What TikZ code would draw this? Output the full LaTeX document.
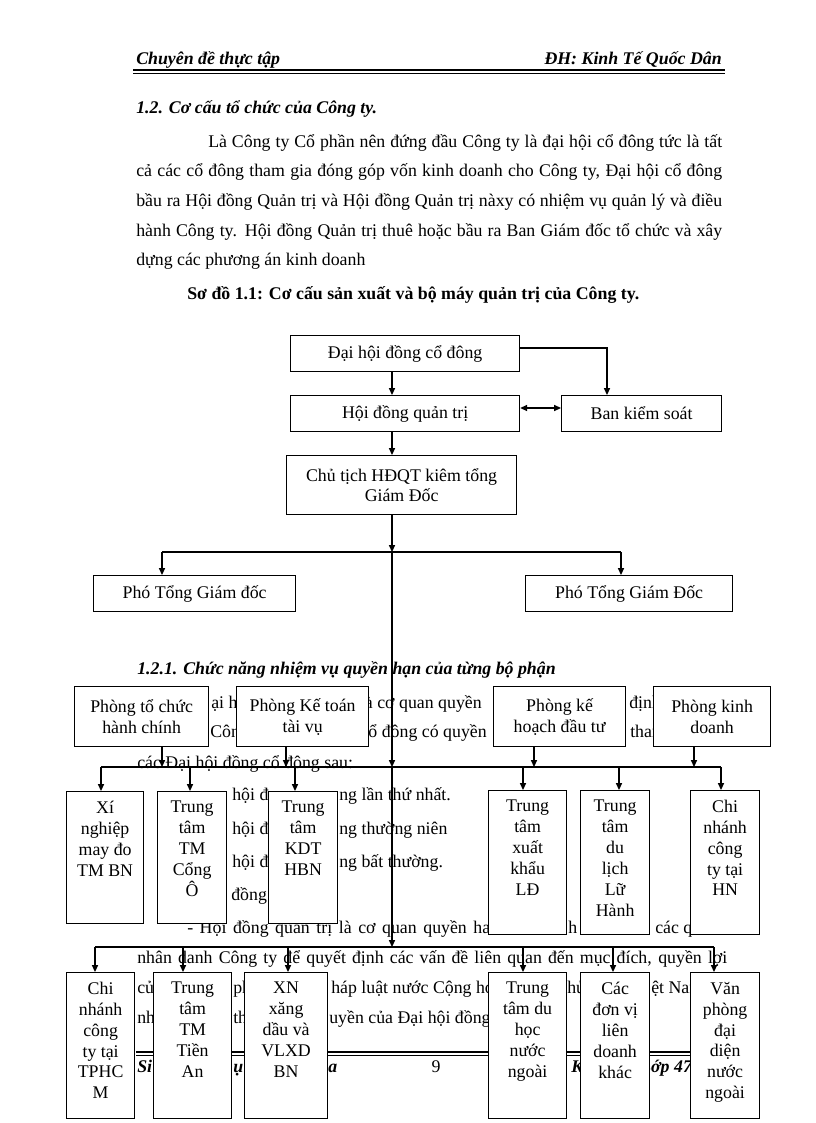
\documentclass[tikz,border=0pt]{standalone}
\usepackage{fontspec}
\setmainfont{Liberation Serif}
\usetikzlibrary{arrows.meta}
\newlength\pxu
\setlength\pxu{0.7295pt}
\newcommand\fs{\fontsize{13}{15.2}\selectfont}
\begin{document}
\begin{tikzpicture}[x=0.7295pt,y=-0.7295pt,
  t/.style={inner sep=0pt,anchor=base west,font=\fs},
  te/.style={inner sep=0pt,anchor=base east,font=\fs},
  bi/.style={font=\fs\bfseries\itshape},
  box/.style={draw,line width=0.9pt,fill=white,inner sep=0pt,align=center,font=\fs,anchor=north west},
  btxt/.style={inner sep=0pt,anchor=north,align=center,font=\fs},
  con/.style={line width=0.9pt},
  arr/.style={con,-{Triangle[length=5pt,width=4.4pt]}},
  arrtwo/.style={con,{Triangle[length=5pt,width=4.4pt]}-{Triangle[length=5pt,width=4.4pt]}}]
\useasboundingbox[fill=white] (0,0) rectangle (816,1123);

% ---------- header ----------
\node[t,bi] (hl) at (136,64) {Chuyên đề thực tập};
\node[te,bi] (hr) at (722,64) {ĐH: Kinh Tế Quốc Dân};
\draw[line width=1.1pt] (133,70) -- (725,70);
\draw[line width=0.4pt] (133,73) -- (725,73);

% ---------- text ----------
\node[t,bi] (h1) at (136,113) {1.2. Cơ cấu tổ chức của Công ty.};
\node[t] (par1) at (208,147) {\makebox[514\pxu][s]{Là Công ty Cổ phần nên đứng đầu Công ty là đại hội cổ đông tức là tất}};
\node[t] (par2) at (136,176) {\makebox[586\pxu][s]{cả các cổ đông tham gia đóng góp vốn kinh doanh cho Công ty, Đại hội cổ đông}};
\node[t] (par3) at (136,206) {\makebox[586\pxu][s]{bầu ra Hội đồng Quản trị và Hội đồng Quản trị nàxy có nhiệm vụ quản lý và điều}};
\node[t] (par4) at (136,236) {\makebox[586\pxu][s]{hành Công ty. Hội đồng Quản trị thuê hoặc bầu ra Ban Giám đốc tổ chức và xây}};
\node[t] (par5) at (136,265) {dựng các phương án kinh doanh};
\node[t,font=\fs\bfseries] (cap) at (187,299) {Sơ đồ 1.1: Cơ cấu sản xuất và bộ máy quản trị của Công ty.};

\node[t,bi] (h2) at (137,674) {1.2.1. Chức năng nhiệm vụ quyền hạn của từng bộ phận};

% background text fragments (the rest of each line lies under the boxes)
\node[t] (fa1) at (211,708) {ại h};
\node[te] (fa2) at (482,708) {à cơ quan quyền};
\node[t] (fa3) at (629,708) {định};
\node[t] (fb1) at (210,737) {Công};
\node[te] (fb2) at (487,737) {ổ đông có quyền};
\node[t] (fb3) at (630,737) {tham};
\node[t] (fc) at (137,768) {các Đại hội đồng cổ đông sau:};
\node[t] (fd1) at (232,800) {hội đ};
\node[t] (fd2) at (339,800) {ng lần thứ nhất.};
\node[t] (fe1) at (232,834) {hội đ};
\node[t] (fe2) at (339,834) {ng thường niên};
\node[t] (ff1) at (232,867) {hội đ};
\node[t] (ff2) at (339,867) {ng bất thường.};
\node[t] (fg) at (231,900) {đồng};
\node[t] (fh1) at (187,933) {\makebox[303\pxu][s]{- Hội đồng quản trị là cơ quan quyền ha}};
\node[t] (fh2) at (568,933) {h};
\node[t] (fh3) at (655,933) {các q};
\node[t] (fi) at (137,963) {\makebox[590\pxu][s]{nhân danh Công ty để quyết định các vấn đề liên quan đến mục đích, quyền lợi}};
\node[t] (fj1) at (137,993) {của};
\node[t] (fj2) at (233,993) {phù};
\node[t] (fj3) at (331,993) {háp luật nước Cộng ho};
\node[t] (fj4) at (567,993) {hủ};
\node[t] (fj5) at (651,993) {ệt Nam};
\node[t] (fk1) at (137,1023) {nh};
\node[t] (fk2) at (233,1023) {th};
\node[t] (fk3) at (329,1023) {uyền của Đại hội đồng};

% footer
\draw[line width=1.1pt] (136,1052) -- (722,1052);
\draw[line width=0.4pt] (136,1055.5) -- (722,1055.5);
\node[t,bi] (fo1) at (137,1072) {Si};
\node[t,bi] (fo2) at (233,1072) {ụ};
\node[t,bi] (fo3) at (328,1072) {a};
\node[inner sep=0pt,anchor=base,font=\fs] (fo4) at (436,1072) {9};
\node[t,bi] (fo5) at (571,1072) {K};
\node[t,bi] (fo6) at (640,1072) {Lớp 47};

% ---------- boxes ----------
\node[box,minimum width=229\pxu,minimum height=36\pxu] (b1) at (290,335) {Đại hội đồng cổ đông};
\node[box,minimum width=229\pxu,minimum height=36\pxu] (b2) at (290,395) {Hội đồng quản trị};
\node[box,minimum width=160\pxu,minimum height=36\pxu] (b3) at (561,395) {Ban kiểm soát};
\node[box,minimum width=230\pxu,minimum height=59\pxu] (b4) at (286,455) {Chủ tịch HĐQT kiêm tổng\\Giám Đốc};
\node[box,minimum width=202\pxu,minimum height=36\pxu] (pg1) at (93,575) {Phó Tổng Giám đốc};
\node[box,minimum width=207\pxu,minimum height=36\pxu] (pg2) at (525,575) {Phó Tổng Giám Đốc};

\node[box,minimum width=134\pxu,minimum height=60\pxu] (q1) at (74,686) {Phòng tổ chức\\hành chính};
\node[box,minimum width=132\pxu,minimum height=60\pxu] (q2) at (236,686) {Phòng Kế toán\\tài vụ};
\node[box,minimum width=132\pxu,minimum height=60\pxu] (q3) at (493,686) {Phòng kế\\hoạch đầu tư};
\node[box,minimum width=117\pxu,minimum height=60\pxu] (q4) at (653,686) {Phòng kinh\\doanh};

\node[box,minimum width=77\pxu,minimum height=132\pxu] (rA) at (66,791) {};
\node[box,minimum width=69\pxu,minimum height=132\pxu] (rB) at (157,791) {};
\node[box,minimum width=69\pxu,minimum height=132\pxu] (rC) at (268,791) {};
\node[box,minimum width=78\pxu,minimum height=144\pxu] (rD) at (488,790) {};
\node[box,minimum width=69\pxu,minimum height=144\pxu] (rE) at (580,790) {};
\node[box,minimum width=69\pxu,minimum height=144\pxu] (rF) at (690,790) {};
\node[btxt] (rAt) at ([yshift=-10\pxu]rA.north) {Xí\\nghiệp\\may đo\\TM BN};
\node[btxt] (rBt) at ([yshift=-10\pxu]rB.north) {Trung\\tâm\\TM\\Cổng\\Ô};
\node[btxt] (rCt) at ([yshift=-10\pxu]rC.north) {Trung\\tâm\\KDT\\HBN};
\node[btxt] (rDt) at ([yshift=-10\pxu]rD.north) {Trung\\tâm\\xuất\\khẩu\\LĐ};
\node[btxt] (rEt) at ([yshift=-10\pxu]rE.north) {Trung\\tâm\\du\\lịch\\Lữ\\Hành};
\node[btxt] (rFt) at ([yshift=-10\pxu]rF.north) {Chi\\nhánh\\công\\ty tại\\HN};

\node[box,minimum width=68\pxu,minimum height=146\pxu] (sA) at (66,972) {};
\node[box,minimum width=78\pxu,minimum height=146\pxu] (sB) at (153,972) {};
\node[box,minimum width=83\pxu,minimum height=146\pxu] (sC) at (244,972) {};
\node[box,minimum width=78\pxu,minimum height=146\pxu] (sD) at (488,972) {};
\node[box,minimum width=69\pxu,minimum height=146\pxu] (sE) at (580,972) {};
\node[box,minimum width=69\pxu,minimum height=146\pxu] (sF) at (690,972) {};
\node[btxt] (sAt) at ([yshift=-10\pxu]sA.north) {Chi\\nhánh\\công\\ty tại\\TPHC\\M};
\node[btxt] (sBt) at ([yshift=-10\pxu]sB.north) {Trung\\tâm\\TM\\Tiền\\An};
\node[btxt] (sCt) at ([yshift=-10\pxu]sC.north) {XN\\xăng\\dầu và\\VLXD\\BN};
\node[btxt] (sDt) at ([yshift=-10\pxu]sD.north) {Trung\\tâm du\\học\\nước\\ngoài};
\node[btxt] (sEt) at ([yshift=-10\pxu]sE.north) {Các\\đơn vị\\liên\\doanh\\khác};
\node[btxt] (sFt) at ([yshift=-10\pxu]sF.north) {Văn\\phòng\\đại\\diện\\nước\\ngoài};

% ---------- connectors ----------
\coordinate (sp) at (392,0);
\coordinate (s1) at (392,552);
\coordinate (s2) at (392,767);
\coordinate (s3) at (392,947);
\coordinate (bk) at (607,348);
\coordinate (dd) at (0,408);
\coordinate (h1l) at (162,552);
\coordinate (h1r) at (621,552);
\coordinate (l2a) at (101,767);
\coordinate (l2b) at (721,767);
\coordinate (f1) at (162,767);
\coordinate (f2) at (286,767);
\coordinate (f3) at (534,767);
\coordinate (f4) at (694,767);
\coordinate (d2) at (190,767);
\coordinate (d3) at (295,767);
\coordinate (d4) at (523,767);
\coordinate (d5) at (619,767);
\coordinate (l3a) at (95,947);
\coordinate (l3b) at (714,947);
\coordinate (e2) at (183,947);
\coordinate (e3) at (288,947);
\coordinate (e4) at (523,947);
\coordinate (e5) at (613,947);

\draw[arr] (b1.south -| sp) -- (b2.north -| sp);
\draw[arr] (b1.east |- bk) -- (bk) -- (bk |- b3.north);
\draw[arrtwo] (b2.east |- dd) -- (b3.west |- dd);
\draw[arr] (b2.south -| sp) -- (b4.north -| sp);
\draw[arr] (b4.south -| sp) -- (s1);
\draw[con] (h1l) -- (h1r);
\draw[arr] (h1l) -- (h1l |- pg1.north);
\draw[arr] (h1r) -- (h1r |- pg2.north);
\draw[arr] (s1) -- (s2);

\draw[con] (l2a) -- (l2b);
\draw[arr] (q1.south -| f1) -- (f1);
\draw[arr] (q2.south -| f2) -- (f2);
\draw[arr] (q3.south -| f3) -- (f3);
\draw[arr] (q4.south -| f4) -- (f4);
\draw[arr] (l2a) -- (l2a |- rA.north);
\draw[arr] (d2) -- (d2 |- rB.north);
\draw[arr] (d3) -- (d3 |- rC.north);
\draw[arr] (d4) -- (d4 |- rD.north);
\draw[arr] (d5) -- (d5 |- rE.north);
\draw[arr] (l2b) -- (l2b |- rF.north);
\draw[arr] (s2) -- (s3);

\draw[con] (l3a) -- (l3b);
\draw[arr] (l3a) -- (l3a |- sA.north);
\draw[arr] (e2) -- (e2 |- sB.north);
\draw[arr] (e3) -- (e3 |- sC.north);
\draw[arr] (e4) -- (e4 |- sD.north);
\draw[arr] (e5) -- (e5 |- sE.north);
\draw[arr] (l3b) -- (l3b |- sF.north);
\end{tikzpicture}
\end{document}
